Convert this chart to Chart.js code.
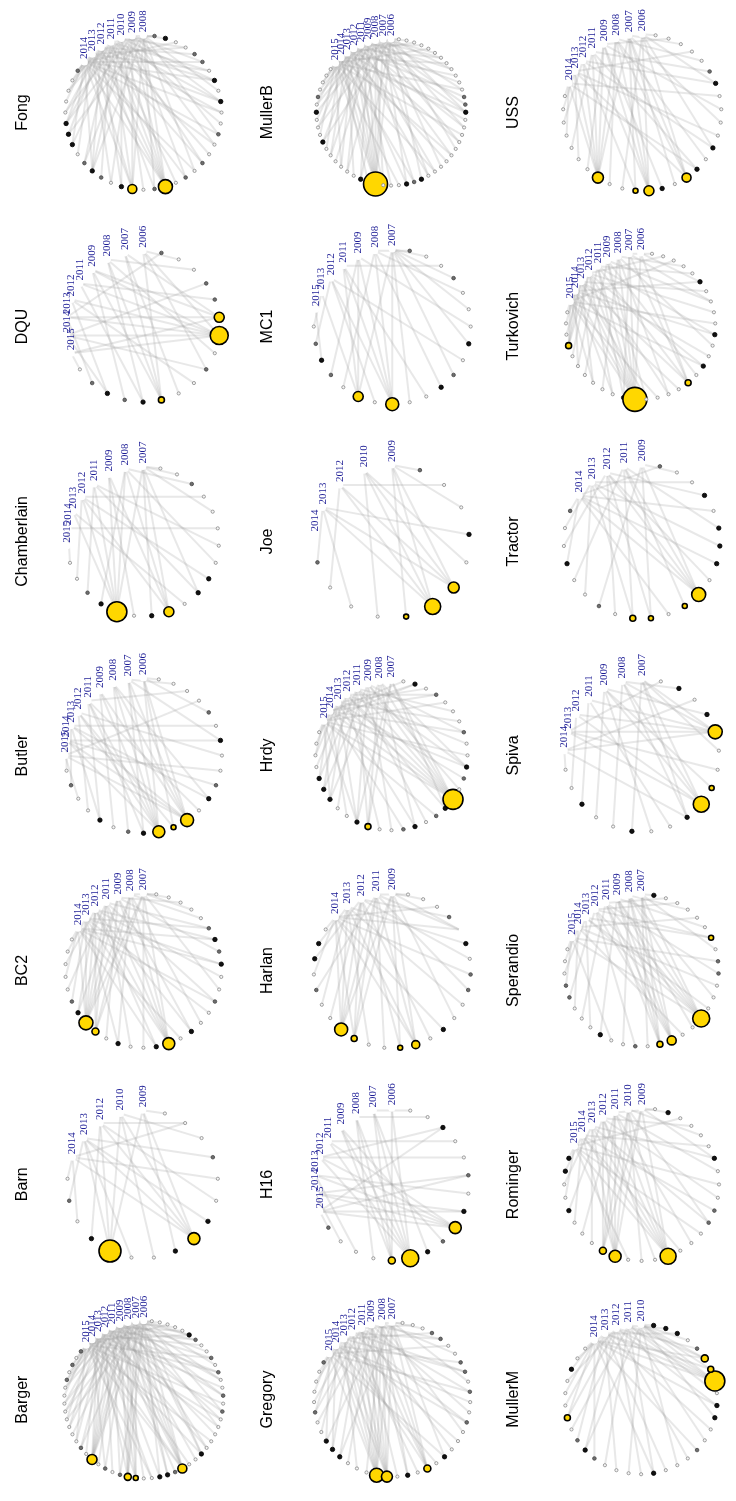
<!DOCTYPE html>
<html lang="en">
<head>
<meta charset="UTF-8">
<title>Networks</title>
<script src="https://cdn.jsdelivr.net/npm/chart.js@4.4.0/dist/chart.umd.min.js"></script>
<style>
    body {
        margin: 0;
        background: #fff;
    }

    #grid {
        position: relative;
        width: 736px;
        height: 1501px;
    }

    .panel {
        position: absolute;
        width: 245px;
        height: 214px;
    }
</style>
</head>
<body>
<div id="grid"></div>
<script>
    // panels in the order of the source figure (3 rows x 7 columns, alphabetical)
    const panelNames = ['Barger', 'Barn', 'BC2', 'Butler', 'Chamberlain', 'DQU', 'Fong',
        'Gregory', 'H16', 'Harlan', 'Hrdy', 'Joe', 'MC1', 'MullerB',
        'MullerM', 'Rominger', 'Sperandio', 'Spiva', 'Tractor', 'Turkovich', 'USS'];

    // year vertices, placed first on the circle
    const panelYears = [
        ['2006', '2007', '2008', '2009', '2011', '2012', '2013', '2014', '2015'],
        ['2009', '2010', '2012', '2013', '2014'],
        ['2007', '2008', '2009', '2011', '2012', '2013', '2014'],
        ['2006', '2007', '2008', '2009', '2011', '2012', '2013', '2014', '2015'],
        ['2007', '2008', '2009', '2011', '2012', '2013', '2014', '2015'],
        ['2006', '2007', '2008', '2009', '2011', '2012', '2013', '2014', '2015'],
        ['2008', '2009', '2010', '2011', '2012', '2013', '2014'],
        ['2007', '2008', '2009', '2011', '2012', '2013', '2014', '2015'],
        ['2006', '2007', '2008', '2009', '2011', '2012', '2013', '2014', '2015'],
        ['2009', '2011', '2012', '2013', '2014'],
        ['2007', '2008', '2009', '2011', '2012', '2013', '2014', '2015'],
        ['2009', '2010', '2012', '2013', '2014'],
        ['2007', '2008', '2009', '2011', '2012', '2013', '2015'],
        ['2006', '2007', '2008', '2009', '2011', '2012', '2013', '2014', '2015'],
        ['2010', '2011', '2012', '2013', '2014'],
        ['2009', '2010', '2011', '2012', '2013', '2014', '2015'],
        ['2007', '2008', '2009', '2011', '2012', '2013', '2014', '2015'],
        ['2007', '2008', '2009', '2011', '2012', '2013', '2014'],
        ['2009', '2011', '2012', '2013', '2014'],
        ['2006', '2007', '2008', '2009', '2011', '2012', '2013', '2014', '2015'],
        ['2006', '2007', '2008', '2009', '2011', '2012', '2013', '2014']
    ];

    // other vertices after the years: '.' light, 'o' grey, 'k' black, 'Y' yellow
    const nodeKinds = [
        'o.o.o........o.Y.o.oYY..kkoY..k.....o.o..o.o..ok.....',
        '.o.kY..kYk..o...',
        '.....okYY.k..kY.k..o..koko.....',
        '.o..k.okYYY.ko..k.o....',
        '..okY.kY.kk.....o..',
        '.okokY..o.YYoo..o',
        'o....kkk.oko.kY.oY.o.o..o..k.k.oo..ko',
        'o....o..kkk...YY.k.Y.k...o..o.oo..oo...',
        'o...YYkoYk.o..k..',
        '.kk.o..YY..YY.k..oo.kYo...',
        '....kkk..kY..ok.okY.ok..o...o.k.',
        'o...YYY.k..o',
        '.oko.Y.Y..ko.k...o..o',
        '....o.k...k......k.Y...kok..........koo............',
        '..k...Y.oko....k...o..kk.YYYo.kkk',
        'kk..k...YY...Y...oo...k....k.',
        '...oo...k..o.YY..Y...oo.Y.....k',
        '..k..k..kYY..Yk.k.',
        'o..k..o.YY.YY.kkk.k..o',
        '...Y......kY....Y.k..k....k.....',
        '.......Y..YYk.Yk.k....ko.....'
    ];

    // radius (px) of each yellow vertex, in circle order
    const yellowSizes = [
        [5, 3.5, 2.5, 4.5], [11, 6], [7, 3.5, 6], [6, 2.5, 6.5], [10, 5], [3, 9, 5], [4.5, 7],
        [7, 5.5, 3.5], [3.5, 8.5, 6], [6.5, 3, 2.5, 4], [3, 10], [2.5, 8, 5.5], [5, 6.5], [12],
        [3, 10, 3, 3.5], [3.5, 6, 8], [3, 4.5, 8.5, 2.5], [8, 2.5, 7], [3, 2.5, 2.5, 7], [3, 12, 3], [5.5, 2.5, 5, 4.5]
    ];

    // for each non-year vertex: indices of the years it is linked to
    const edgeLinks = [
        '8 7 68 5 47 36 8 25 14 07 36 2 58 14 6 0123456 3 27 5 04 01236 1247 3 68 05 12 4 0123478 6 3 017 25 8 4 16 37 05 8 24 6 13 57 0 48 2 6 35 017 4 2 8 1 0',
        '4 3 4 2 0123 3 1 0 01234 3 2 4 3 1 24 0',
        '6 5 4 6 3 5 24 0123456 0134 2 15 3 0 46 012345 6 24 1 5 36 0 4 56 2 46 35 1 0 2 0 1',
        '7 6 8 5 46 3 2 14 0123457 05 0123678 4 26 7 8 5 17 6 0 8 4 1 0',
        '6 4 3 1 012345 2 0 0124 5 03 4 1 3 6 0 4 1 0 0',
        '8 6 57 3 24 0123 1 5 07 2 0345678 1368 4 7 2 0 6',
        '56 46 35 6 24 135 04 26 5 13 0246 3 15 24 01356 2 04 0123456 3 15 06 24 3 15 06 2 46 135 0 246 35 16 4 25 6 0 13',
        '7 6 5 7 4 36 2 5 17 46 03 2 5 1 01234567 0123456 3 12 4 01235 6 07 3 5 1 46 2 6 37 0 45 6 1 7 24 5 0 3 1',
        '8 7 6 2 0123 012345 1 3 45678 78 6 78 5 4 58 2 1',
        '4 3 2 4 1 3 2 01234 0124 3 1 02 0134 2 4 0 3 1 4 2 3 014 2 4 0 1',
        '7 6 57 4 36 25 147 3 6 0257 013 4 2 6 15 3 7 04 01234567 2 5 136 7 4 26 5 3 7 46 5 67 6',
        '3 2 3 1 0 0123 0123 1 3 0 2 0',
        '5 4 6 2 1 0235 4 01234 0 3 1 0 4 0 2 0 1 0 3 0 1',
        '8 7 68 5 4 37 2 6 15 8 04 7 36 2 58 14 6 03 7 012345678 25 4 8 16 37 0 25 48 1 6 37 0 25 8 14 6 037 2 5 18 4 6 03 7 25 1 8 4 6 0 2',
        '4 3 4 2 4 3 24 1 3 02 4 1 3 0 2 14 3 0 2 4 1 3 0 24 1 01234 03 014 2 0 3 1 0',
        '6 5 4 6 3 5 2 4 0123 012345 6 1 3 0123456 5 2 6 14 5 3 6 2 04 5 1 3 6 0 2',
        '7 6 5 7 4 6 3 5 2 7 1 4 0 0123 01234 6 2 0123457 5 1 6 3 7 0 45 2 6 1 4 3 0',
        '6 4 3 2 1 0 2 3 016 01245 2 5 0 013456 2 6 1 5',
        '4 3 2 4 1 3 0 2 13 02 4 1 01234 2 4 3 1 4 2 3 0 4',
        '8 7 6 5678 5 47 3 68 2 57 14 012345678 36 8 25 7 0146 3 58 6 2 47 8 5 13 6 07 4 2 8 5 1',
        '7 6 5 7 4 6 3 1234567 2 0 15 01234 3 1 0126 47 2 05 6 1 3 7 05 4 2 6 1 3 0'
    ];

    const PANEL_W = 736 / 3;
    const PANEL_H = 1501 / 7;
    const RADIUS = 84;

    const kindStyle = {
        '.': { r: 1.6, fill: '#f4f4f4', line: '#8a8a8a', w: 0.8 },
        'o': { r: 1.8, fill: '#6e6e6e', line: '#444', w: 0.8 },
        'k': { r: 2.2, fill: '#111', line: '#000', w: 0.8 }
    };

    function buildPanel(k) {
        const years = panelYears[k];
        const kinds = nodeKinds[k];
        const n = years.length + kinds.length;

        // source figure is turned a quarter turn: row -> column
        const col = Math.floor(k / 7);
        const row = 6 - (k % 7);

        const box = document.createElement('div');
        box.className = 'panel';
        box.style.left = Math.round(col * PANEL_W) + 'px';
        box.style.top = Math.round(row * PANEL_H) + 'px';
        const canvas = document.createElement('canvas');
        box.appendChild(canvas);
        document.getElementById('grid').appendChild(box);

        // circle layout, first vertex on top, going counter-clockwise
        const pts = [];
        for (let i = 0; i < n; i++) {
            const a = Math.PI / 2 + 2 * Math.PI * i / n;
            pts.push({ x: Math.cos(a), y: Math.sin(a) });
        }

        const radius = [], fill = [], line = [], width = [];
        years.forEach(() => {
            radius.push(3.5); fill.push('#fff'); line.push('#fff'); width.push(0);
        });
        let yi = 0;
        for (const c of kinds) {
            if (c === 'Y') {
                radius.push(yellowSizes[k][yi++]); fill.push('#FFD700'); line.push('#000'); width.push(1.6);
            } else {
                const s = kindStyle[c];
                radius.push(s.r); fill.push(s.fill); line.push(s.line); width.push(s.w);
            }
        }

        const datasets = [{
            data: pts,
            pointRadius: radius,
            pointBackgroundColor: fill,
            pointBorderColor: line,
            pointBorderWidth: width,
            showLine: false,
            clip: false
        }];

        const tokens = edgeLinks[k].split(' ');
        tokens.forEach((tok, j) => {
            if (j >= kinds.length) return;
            for (const ch of tok) {
                const y = parseInt(ch, 10);
                datasets.push({
                    data: [pts[y], pts[years.length + j]],
                    showLine: true,
                    pointRadius: 0,
                    borderWidth: 2,
                    borderColor: 'rgba(165,165,165,0.25)',
                    clip: false
                });
            }
        });

        const cx = 145 + 4 * col;
        const cy = 113;
        const w = 245, h = 214;

        const labels = {
            id: 'netLabels',
            afterDatasetsDraw(chart) {
                const ctx = chart.ctx;
                const xs = chart.scales.x, ys = chart.scales.y;
                ctx.save();
                ctx.fillStyle = '#1e1e96';
                ctx.font = '11px "Liberation Serif", "Times New Roman", serif';
                ctx.textAlign = 'left';
                ctx.textBaseline = 'middle';
                years.forEach((yr, i) => {
                    ctx.save();
                    ctx.translate(xs.getPixelForValue(pts[i].x), ys.getPixelForValue(pts[i].y) - 3);
                    ctx.rotate(-Math.PI / 2);
                    ctx.fillText(yr, 0, 0);
                    ctx.restore();
                });
                ctx.fillStyle = '#000';
                ctx.font = '16px "Liberation Sans", Arial, sans-serif';
                ctx.textAlign = 'center';
                ctx.translate(23, ys.getPixelForValue(0));
                ctx.rotate(-Math.PI / 2);
                ctx.fillText(panelNames[k], 0, 0);
                ctx.restore();
            }
        };

        new Chart(canvas.getContext('2d'), {
            type: 'scatter',
            data: { datasets: datasets },
            options: {
                responsive: true,
                maintainAspectRatio: false,
                animation: false,
                events: [],
                layout: { padding: 0 },
                plugins: { legend: { display: false }, tooltip: { enabled: false } },
                scales: {
                    x: { display: false, min: -cx / RADIUS, max: (w - cx) / RADIUS },
                    y: { display: false, min: -(h - cy) / RADIUS, max: cy / RADIUS }
                }
            },
            plugins: [labels]
        });
    }

    for (let k = 0; k < panelNames.length; k++) {
        buildPanel(k);
    }
</script>
</body>
</html>
